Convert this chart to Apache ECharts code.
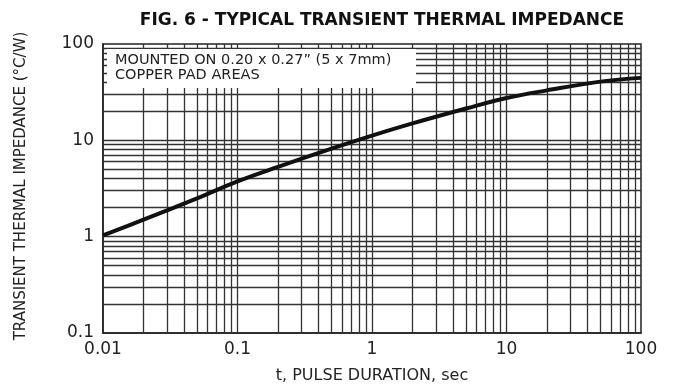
<!DOCTYPE html>
<html>
<head>
<meta charset="utf-8">
<script src="https://cdn.jsdelivr.net/npm/echarts@6/dist/echarts.min.js"></script>
<style>
  html, body { margin: 0; padding: 0; background: #fff; }
  #chart { width: 673px; height: 389px; }
</style>
</head>
<body>
<div id="chart"></div>
<script>
// pulse duration (sec) and transient thermal impedance (°C/W)
var pulseTime = [0.01, 0.02, 0.05, 0.1, 0.2, 0.5, 1, 2, 5, 10, 20, 50, 100];
var impedance = [1.03, 1.5, 2.5, 3.75, 5.3, 8.2, 11.2, 15, 21.4, 27.5, 33, 40.7, 44.5];

var xTickLabels = ['0.01', '0.1', '1', '10', '100'];
var yTickLabels = ['0.1', '1', '10', '100'];
var xDecades = [0.01, 0.1, 1, 10];
var yDecades = [0.1, 1, 10];
var steps = [1, 2, 3, 4, 5, 6, 7, 8, 9];

var FONT = '"DejaVu Sans", Verdana, sans-serif';

// grid lines at every 1..9 step of each decade
var gridLines = [];
xDecades.forEach(function (d) {
  steps.forEach(function (s) {
    if (s > 1 || d > 0.01) gridLines.push({ xAxis: +(d * s).toPrecision(3) });
  });
});
yDecades.forEach(function (d) {
  steps.forEach(function (s) {
    if (s > 1 || d > 0.1) gridLines.push({ yAxis: +(d * s).toPrecision(3) });
  });
});

function labelFor(list, v) {
  var i = Math.round(Math.log10(v)) - Math.round(Math.log10(parseFloat(list[0])));
  return list[i] || '';
}

var option = {
  animation: false,
  backgroundColor: '#fff',
  title: {
    text: 'FIG. 6 - TYPICAL TRANSIENT THERMAL IMPEDANCE',
    left: 377,
    top: 7,
    textAlign: 'center',
    textStyle: { fontFamily: FONT, fontSize: 17, fontWeight: 'bold', color: '#111' }
  },
  grid: {
    left: 103,
    right: 32,
    top: 44,
    bottom: 51,
    show: true,
    borderColor: '#222',
    borderWidth: 1.5
  },
  xAxis: {
    type: 'log',
    logBase: 10,
    min: 0.01,
    max: 100,
    name: 't, PULSE DURATION, sec',
    nameLocation: 'middle',
    nameGap: 35,
    nameTextStyle: { fontFamily: FONT, fontSize: 16, color: '#222' },
    axisLine: { show: true, lineStyle: { color: '#222', width: 1.5 } },
    axisTick: { show: false },
    splitLine: { show: false },
    axisLabel: {
      fontFamily: FONT,
      fontSize: 17,
      color: '#222',
      margin: 8,
      formatter: function (v) { return labelFor(xTickLabels, v); }
    }
  },
  yAxis: {
    type: 'log',
    logBase: 10,
    min: 0.1,
    max: 100,
    axisLine: { show: true, lineStyle: { color: '#222', width: 1.5 } },
    axisTick: { show: false },
    splitLine: { show: false },
    axisLabel: {
      fontFamily: FONT,
      fontSize: 17,
      color: '#222',
      margin: 9,
      formatter: function (v) { return labelFor(yTickLabels, v); }
    }
  },
  graphic: [
    {
      type: 'text',
      x: 21,
      y: 186,
      rotation: Math.PI / 2,
      style: {
        text: 'TRANSIENT THERMAL IMPEDANCE (°C/W)',
        font: '15px ' + FONT,
        fill: '#222',
        textAlign: 'center',
        textVerticalAlign: 'middle'
      }
    },
    {
      type: 'rect',
      z: 100,
      shape: { x: 107, y: 49, width: 309, height: 39 },
      style: { fill: '#fff' }
    },
    {
      type: 'text',
      z: 101,
      x: 115,
      y: 53,
      style: {
        text: 'MOUNTED ON 0.20 x 0.27\u201D (5 x 7mm)\nCOPPER PAD AREAS',
        font: '14.5px ' + FONT,
        lineHeight: 15,
        fill: '#222'
      }
    }
  ],
  series: [
    {
      type: 'line',
      data: pulseTime.map(function (t, i) { return [t, impedance[i]]; }),
      smooth: 0.4,
      showSymbol: false,
      z: 5,
      lineStyle: { color: '#111', width: 4 },
      markLine: {
        silent: true,
        symbol: ['none', 'none'],
        label: { show: false },
        lineStyle: { color: '#333', width: 1.3, type: 'solid' },
        data: gridLines
      }
    }
  ]
};

var myChart = echarts.init(document.getElementById('chart'));
myChart.setOption(option);
window.addEventListener('resize', function () {
  myChart.resize();
});
</script>
</body>
</html>
